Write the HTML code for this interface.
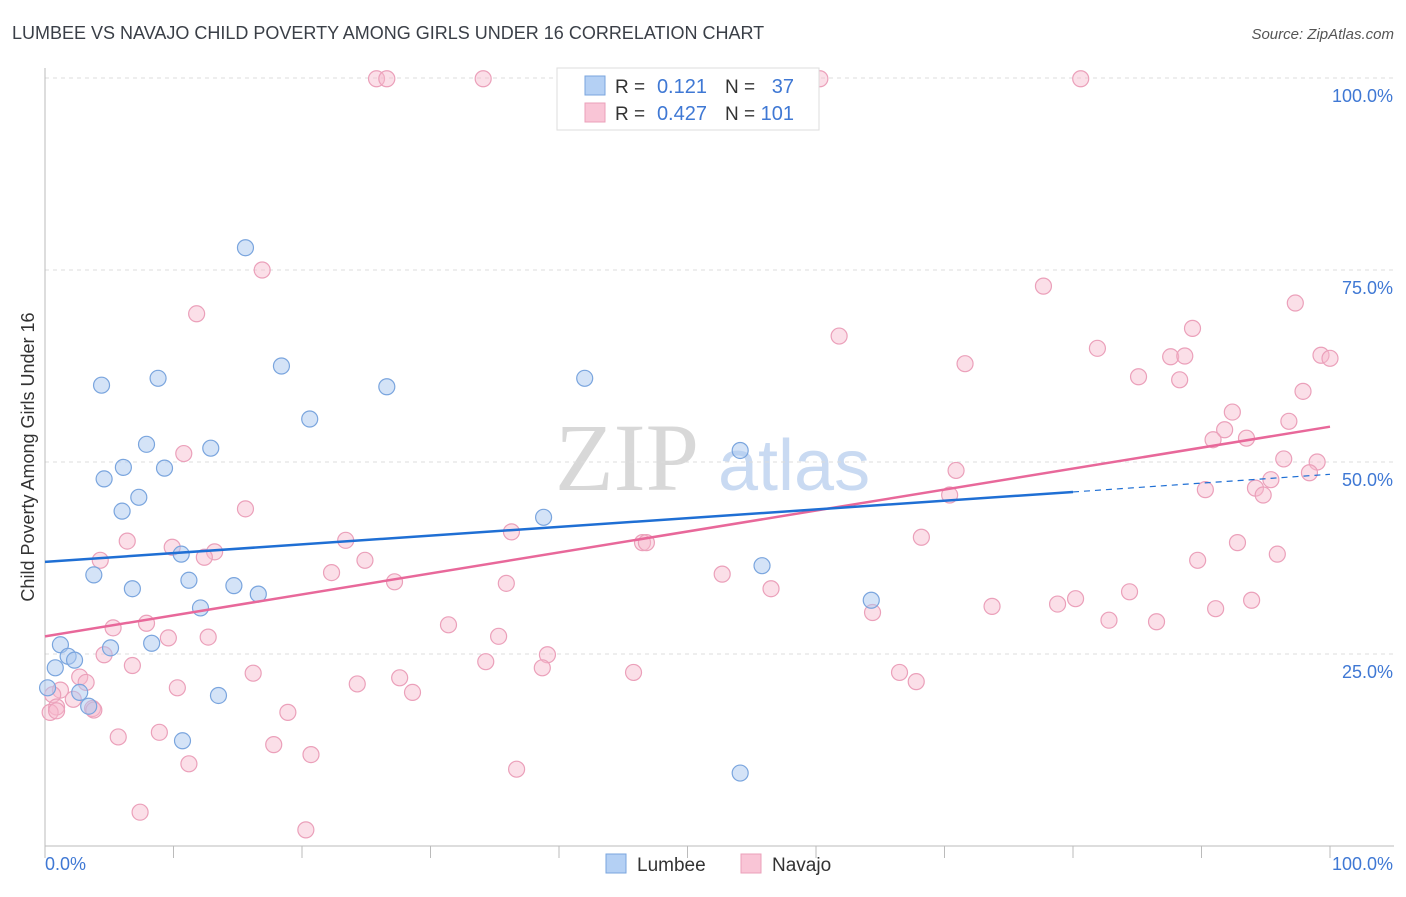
<!DOCTYPE html>
<html><head><meta charset="utf-8">
<style>
body{margin:0;background:#fff;font-family:"Liberation Sans",sans-serif;}
#wrap{position:relative;width:1406px;height:892px;}
</style></head>
<body>
<div id="wrap">
<svg id="chart" width="1406" height="892"></svg>
</div>
<script>
const lumbeeX=[4.4,8.8,15.6,18.4,26.6,42.0,20.6,7.9,12.9,6.1,9.3,4.6,7.3,6.0,38.8,54.1,10.6,3.8,11.2,6.8,14.7,16.6,12.1,55.8,64.3,1.2,1.8,2.3,5.1,8.3,0.8,0.2,2.7,13.5,3.4,10.7,54.1];
const lumbeeY=[60.0,60.9,77.9,62.5,59.8,60.9,55.6,52.3,51.8,49.3,49.2,47.8,45.4,43.6,42.8,51.5,38.0,35.3,34.6,33.5,33.9,32.8,31.0,36.5,32.0,26.2,24.7,24.2,25.8,26.4,23.2,20.6,20.0,19.6,18.2,13.7,9.5];
const navajoX=[25.8,26.6,34.1,40.5,60.3,80.6,16.9,11.8,77.7,61.8,81.9,71.6,89.3,97.3,87.6,88.7,99.3,100,85.1,88.3,97.9,92.4,96.8,91.8,90.9,93.5,70.9,96.4,99.0,98.4,95.4,94.2,90.3,94.8,70.4,15.6,36.3,68.2,10.8,6.4,9.9,13.2,12.4,23.4,24.9,4.3,46.5,46.8,92.8,95.9,89.7,52.7,22.3,27.2,35.9,56.5,84.4,93.9,80.2,73.7,78.8,91.1,64.4,5.3,7.9,9.6,12.7,31.4,35.3,82.8,86.5,4.6,39.1,34.3,38.7,6.8,45.8,66.5,16.2,27.6,24.3,67.8,28.6,10.3,2.7,3.2,1.2,0.6,2.2,0.9,0.4,0.9,3.7,18.9,5.7,8.9,17.8,20.7,11.2,36.7,7.4,20.3,3.8];
const navajoY=[99.9,99.9,99.9,99.9,99.9,99.9,75.0,69.3,72.9,66.4,64.8,62.8,67.4,70.7,63.7,63.8,63.9,63.5,61.1,60.7,59.2,56.5,55.3,54.2,52.9,53.1,48.9,50.4,50.0,48.6,47.7,46.6,46.4,45.7,45.7,43.9,40.9,40.2,51.1,39.7,38.9,38.3,37.6,39.8,37.2,37.2,39.5,39.5,39.5,38.0,37.2,35.4,35.6,34.4,34.2,33.5,33.1,32.0,32.2,31.2,31.5,30.9,30.4,28.4,29.0,27.1,27.2,28.8,27.3,29.4,29.2,24.9,24.9,24.0,23.2,23.5,22.6,22.6,22.5,21.9,21.1,21.4,20.0,20.6,22.0,21.3,20.3,19.7,19.1,18.1,17.4,17.6,17.9,17.4,14.2,14.8,13.2,11.9,10.7,10.0,4.4,2.1,17.7];
const lumbeeTrend=[37.0,46.1,48.4];
const navajoTrend=[27.3,54.6];
const yTicks=[25,50,75,100];
const yTickLabels=["25.0%","50.0%","75.0%","100.0%"];

const svg=document.getElementById('chart');
const NS="http://www.w3.org/2000/svg";
const X=v=>45+v*12.85;
const Y=v=>846-v*7.68;
function mk(tag,attrs,parent){const e=document.createElementNS(NS,tag);for(const k in attrs)e.setAttribute(k,attrs[k]);(parent||svg).appendChild(e);return e;}

let t=mk('text',{x:12,y:39,'font-size':18,fill:'#3a3f47'});t.textContent="LUMBEE VS NAVAJO CHILD POVERTY AMONG GIRLS UNDER 16 CORRELATION CHART";


t=mk('text',{x:1394,y:39,'font-size':15,fill:'#555','font-style':'italic','text-anchor':'end'});t.textContent="Source: ZipAtlas.com";



// watermark
t=mk('text',{x:555,y:490,'font-size':96,fill:'#d8d8d8','font-family':'Liberation Serif,serif'});t.textContent="ZIP";


t=mk('text',{x:718,y:490,'font-size':72,fill:'#c9daf2'});t.textContent="atlas";



// gridlines
yTicks.forEach((v,i)=>{
 const g=mk('line',{x1:45,x2:1394,y1:Y(v),y2:Y(v),stroke:'#dcdcdc','stroke-dasharray':'4,4'});
 
 
 const l=mk('text',{x:1393,y:Y(v)+24,'font-size':18,fill:'#3f78d4','text-anchor':'end'});l.textContent=yTickLabels[i];
 
 
});
let a=mk('line',{x1:45,x2:45,y1:68,y2:846,stroke:'#bbb'});


a=mk('line',{x1:45,x2:1394,y1:846,y2:846,stroke:'#bbb'});


for(let i=0;i<=10;i++){const k=mk('line',{x1:X(i*10),x2:X(i*10),y1:846,y2:858,stroke:'#bbb'});
 
 }
t=mk('text',{x:45,y:870,'font-size':18,fill:'#3f78d4'});t.textContent="0.0%";


t=mk('text',{x:1393,y:870,'font-size':18,fill:'#3f78d4','text-anchor':'end'});t.textContent="100.0%";


t=mk('text',{x:34,y:457,'font-size':18,fill:'#333','text-anchor':'middle',transform:'rotate(-90 34 457)'});t.textContent="Child Poverty Among Girls Under 16";



// points
navajoX.forEach((v,i)=>{const c=mk('circle',{cx:X(v),cy:Y(navajoY[i]),r:8,fill:'rgba(247,185,205,0.45)',stroke:'#eba0ba','stroke-width':1.2});
 
 });
lumbeeX.forEach((v,i)=>{const c=mk('circle',{cx:X(v),cy:Y(lumbeeY[i]),r:8,fill:'rgba(170,200,240,0.5)',stroke:'#7aa5de','stroke-width':1.2});
 
 });

// trends
let ln=mk('line',{x1:X(0),y1:Y(navajoTrend[0]),x2:X(100),y2:Y(navajoTrend[1]),stroke:'#e8689a','stroke-width':2.5});


ln=mk('line',{x1:X(0),y1:Y(lumbeeTrend[0]),x2:X(80),y2:Y(lumbeeTrend[1]),stroke:'#1f6fd4','stroke-width':2.5});


ln=mk('line',{x1:X(80),y1:Y(lumbeeTrend[1]),x2:X(100),y2:Y(lumbeeTrend[2]),stroke:'#1f6fd4','stroke-width':1.2,'stroke-dasharray':'6,5'});



// legend box
const lg=mk('g',{});


mk('rect',{x:557,y:68,width:262,height:62,fill:'#fff',stroke:'#ddd'},lg);
mk('rect',{x:585,y:76,width:20,height:19,fill:'#b4d0f4',stroke:'#7aa5de'},lg);
mk('rect',{x:585,y:103,width:20,height:19,fill:'#f9c5d6',stroke:'#eba0ba'},lg);
[[93,'0.121','37'],[120,'0.427','101']].forEach(r=>{
 let e=mk('text',{x:615,y:r[0],'font-size':19,fill:'#333'},lg);e.textContent='R = ';
 e=mk('text',{x:707,y:r[0],'font-size':20,fill:'#3f78d4','text-anchor':'end'},lg);e.textContent=r[1];
 e=mk('text',{x:725,y:r[0],'font-size':19,fill:'#333'},lg);e.textContent='N = ';
 e=mk('text',{x:794,y:r[0],'font-size':20,fill:'#3f78d4','text-anchor':'end'},lg);e.textContent=r[2];
});

// bottom legend
const bl=mk('g',{});


mk('rect',{x:606,y:854,width:20,height:19,fill:'#b4d0f4',stroke:'#7aa5de'},bl);
t=mk('text',{x:637,y:871,'font-size':19,fill:'#333'},bl);t.textContent="Lumbee";
mk('rect',{x:741,y:854,width:20,height:19,fill:'#f9c5d6',stroke:'#eba0ba'},bl);
t=mk('text',{x:772,y:871,'font-size':19,fill:'#333'},bl);t.textContent="Navajo";
</script>
</body></html>
